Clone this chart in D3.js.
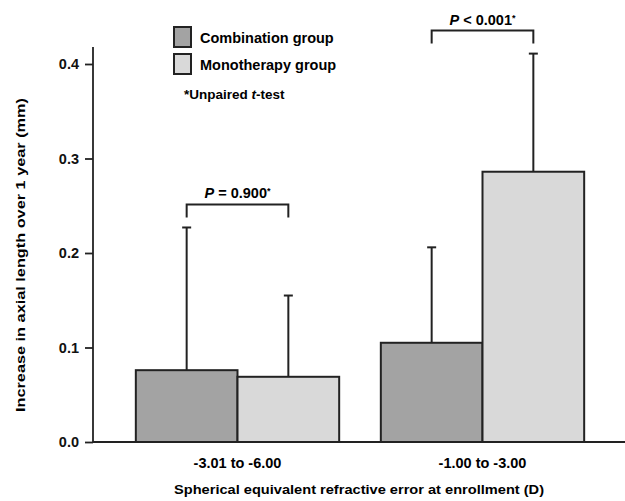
<!DOCTYPE html>
<html>
<head>
<meta charset="utf-8">
<style>
body { margin: 0; background: #fff; }
svg { font-family: "Liberation Sans", Arial, sans-serif; font-weight: bold; }
.axis path, .axis line { stroke: #222; stroke-width: 1.8; }
.axis text { font-size: 14.5px; fill: #111; }
</style>
</head>
<body>
<svg width="625" height="501"></svg>
<script src="https://cdnjs.cloudflare.com/ajax/libs/d3/7.8.5/d3.min.js"></script>
<script>
var categories = ["-3.01 to -6.00", "-1.00 to -3.00"];
var groups = ["Combination group", "Monotherapy group"];
var means = [[0.076, 0.069], [0.105, 0.286]];
var upper = [[0.227, 0.155], [0.206, 0.411]];
var pLabels = [["P", " = 0.900"], ["P", " < 0.001"]];
var yTicks = [0.0, 0.1, 0.2, 0.3, 0.4];

var svg = d3.select("svg");
var colors = d3.scaleOrdinal().domain(groups).range(["#a3a3a3", "#d9d9d9"]);

var y = d3.scaleLinear().domain([0, 0.4]).range([442, 64]);
var x0 = d3.scaleBand().domain(categories).range([115, 605]).paddingInner(0.17).paddingOuter(0.085);
var x1 = d3.scaleBand().domain(groups).range([0, x0.bandwidth()]);

// y axis
var yAxis = svg.append("g")
    .attr("class", "axis")
    .attr("transform", "translate(93,0)")
    .call(d3.axisLeft(y).tickValues(yTicks).tickFormat(d3.format(".1f")).tickSize(8).tickSizeOuter(0));
yAxis.select(".domain").attr("d", "M0," + y(0.418) + "V" + y(0));
yAxis.selectAll("text").attr("x", -14);

// x baseline
svg.append("line")
    .attr("x1", 93).attr("x2", 625)
    .attr("y1", y(0)).attr("y2", y(0))
    .attr("stroke", "#222").attr("stroke-width", 1.8);

// bars
var cat = svg.selectAll(".cat")
  .data(categories)
  .enter().append("g")
    .attr("class", "cat")
    .attr("transform", function(d) { return "translate(" + x0(d) + ",0)"; });

var items = cat.selectAll(".item")
  .data(function(d, i) {
    return groups.map(function(g, j) { return {g: g, m: means[i][j], u: upper[i][j]}; });
  })
  .enter().append("g").attr("class", "item");

items.append("line")
    .attr("x1", function(d) { return x1(d.g) + x1.bandwidth() / 2; })
    .attr("x2", function(d) { return x1(d.g) + x1.bandwidth() / 2; })
    .attr("y1", function(d) { return y(d.m); })
    .attr("y2", function(d) { return y(d.u); })
    .attr("stroke", "#222").attr("stroke-width", 2);
items.append("line")
    .attr("x1", function(d) { return x1(d.g) + x1.bandwidth() / 2 - 4.5; })
    .attr("x2", function(d) { return x1(d.g) + x1.bandwidth() / 2 + 4.5; })
    .attr("y1", function(d) { return y(d.u); })
    .attr("y2", function(d) { return y(d.u); })
    .attr("stroke", "#222").attr("stroke-width", 2);
items.append("rect")
    .attr("x", function(d) { return x1(d.g); })
    .attr("y", function(d) { return y(d.m); })
    .attr("width", x1.bandwidth())
    .attr("height", function(d) { return y(0) - y(d.m); })
    .attr("fill", function(d) { return colors(d.g); })
    .attr("stroke", "#222").attr("stroke-width", 2);

// significance brackets
cat.each(function(d, i) {
  var g = d3.select(this);
  var top = y(d3.max(upper[i])) - 23;
  var cxA = x1(groups[0]) + x1.bandwidth() / 2, cxB = x1(groups[1]) + x1.bandwidth() / 2;
  g.append("path")
      .attr("d", "M" + cxA + "," + (top + 13) + "V" + top + "H" + cxB + "V" + (top + 13))
      .attr("fill", "none").attr("stroke", "#222").attr("stroke-width", 2);
  var t = g.append("text")
      .attr("x", (cxA + cxB) / 2)
      .attr("y", top - 6)
      .attr("text-anchor", "middle")
      .attr("font-size", 14.5);
  t.append("tspan").attr("font-style", "italic").text(pLabels[i][0]);
  t.append("tspan").text(pLabels[i][1]);
  t.append("tspan").attr("font-size", 9).attr("dy", -4).text("*");
});

// x category labels
svg.selectAll(".xlab")
  .data(categories)
  .enter().append("text")
    .attr("x", function(d) { return x0(d) + x0.bandwidth() / 2; })
    .attr("y", 468)
    .attr("text-anchor", "middle")
    .attr("font-size", 14.5)
    .text(function(d) { return d; });

// axis titles
svg.append("text")
    .attr("x", 359).attr("y", 494)
    .attr("text-anchor", "middle").attr("font-size", 13.5)
    .attr("textLength", 370).attr("lengthAdjust", "spacingAndGlyphs")
    .text("Spherical equivalent refractive error at enrollment (D)");
svg.append("text")
    .attr("transform", "translate(25,255) rotate(-90)")
    .attr("text-anchor", "middle").attr("font-size", 13.5)
    .attr("textLength", 314).attr("lengthAdjust", "spacingAndGlyphs")
    .text("Increase in axial length over 1 year (mm)");

// legend
var legend = svg.selectAll(".legend")
  .data(groups)
  .enter().append("g")
    .attr("class", "legend")
    .attr("transform", function(d, i) { return "translate(174," + (27 + i * 27) + ")"; });
legend.append("rect")
    .attr("width", 17).attr("height", 20)
    .attr("fill", colors)
    .attr("stroke", "#222").attr("stroke-width", 2);
legend.append("text")
    .attr("x", 26).attr("y", 16)
    .attr("font-size", 14.5)
    .text(function(d) { return d; });

var note = svg.append("text").attr("x", 184).attr("y", 99).attr("font-size", 13.5);
note.append("tspan").text("*Unpaired ");
note.append("tspan").attr("font-style", "italic").text("t");
note.append("tspan").text("-test");
</script>
</body>
</html>
